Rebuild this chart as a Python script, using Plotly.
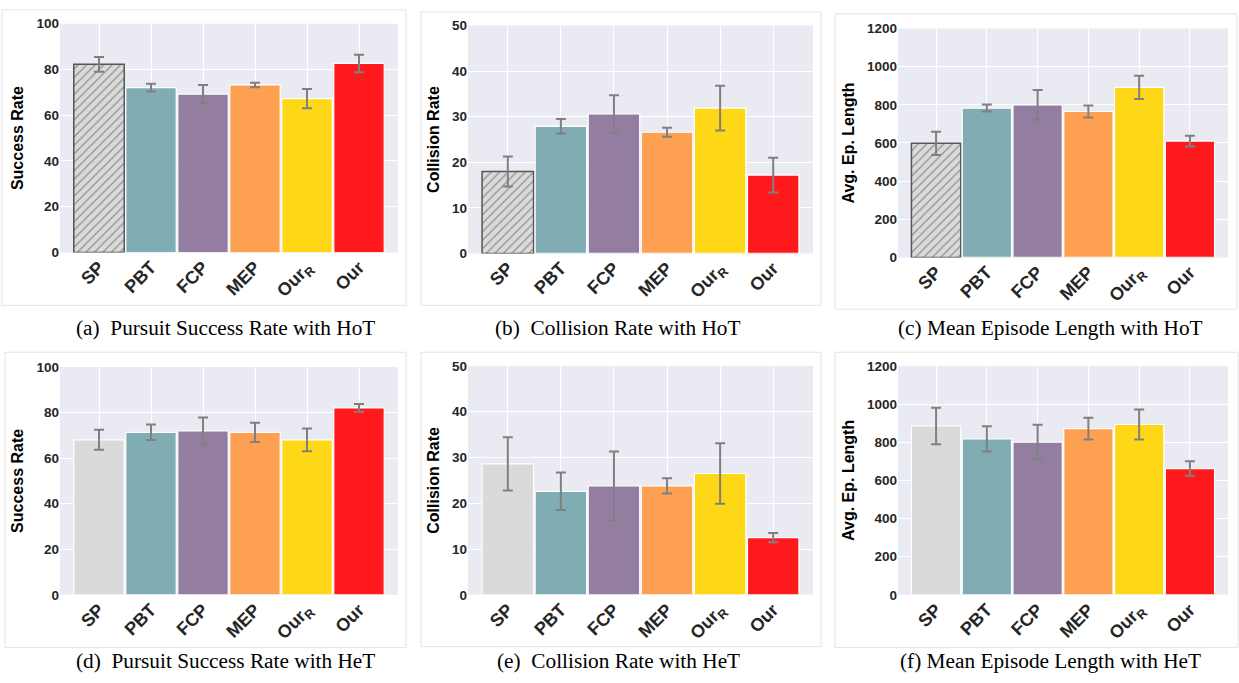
import plotly.graph_objects as go

W, H = 1239, 683

categories = ["SP", "PBT", "FCP", "MEP", "Our<sub>R</sub>", "Our"]
colors = ["#dadada", "#80adb4", "#937ea2", "#fea052", "#fed817", "#fe1a1c"]

# Panel data (values and error half-widths)
succ_hot = [82.2, 72.0, 69.2, 73.2, 67.2, 82.6]
succ_hot_err = [3.2, 1.7, 4.0, 1.0, 4.2, 3.8]
coll_hot = [18.0, 27.9, 30.6, 26.6, 31.9, 17.2]
coll_hot_err = [3.3, 1.6, 4.1, 1.0, 4.9, 3.8]
len_hot = [598, 783, 799, 765, 891, 610]
len_hot_err = [61, 18, 78, 31, 61, 28]
succ_het = [68.0, 71.3, 71.9, 71.3, 68.0, 82.0]
succ_het_err = [4.4, 3.4, 5.9, 4.2, 5.0, 1.7]
coll_het = [28.6, 22.6, 23.8, 23.8, 26.5, 12.5]
coll_het_err = [5.8, 4.1, 7.5, 1.65, 6.6, 1.0]
len_het = [885, 818, 801, 871, 893, 662]
len_het_err = [96, 66, 91, 57, 79, 38]

y_titles = ["Success Rate", "Collision Rate", "Avg. Ep. Length"]
y_max = [100, 50, 1200]
y_dtick = [20, 10, 200]
NB = "\u00a0"
captions = [
    "(a) " + NB + "Pursuit Success Rate with HoT",
    "(b) " + NB + "Collision Rate with HoT",
    "(c) Mean Episode Length with HoT",
    "(d) " + NB + "Pursuit Success Rate with HeT",
    "(e) " + NB + "Collision Rate with HeT",
    "(f) Mean Episode Length with HeT",
]

panels = [
    (succ_hot, succ_hot_err, 0, True),
    (coll_hot, coll_hot_err, 1, True),
    (len_hot, len_hot_err, 2, True),
    (succ_het, succ_het_err, 0, False),
    (coll_het, coll_het_err, 1, False),
    (len_het, len_het_err, 2, False),
]

# plot-area pixel boxes (x0, x1, ytop, ybottom)
boxes = [
    (60, 398, 17, 251),
    (468, 813, 19, 252),
    (898, 1228, 22, 256),
    (60, 398, 368, 601),
    (468, 813, 367, 601),
    (898, 1228, 367, 601),
]
frames = [
    (2, 406, 3, 305),
    (421, 821, 5, 305),
    (835, 1237, 7, 309),
    (5, 406, 353, 655),
    (421, 821, 353, 654),
    (835, 1238, 353, 655),
]
cap_pos = [(226, 328), (618, 328), (1050, 328), (226, 669), (618, 669), (1050, 669)]

fig = go.Figure()
tickfont = dict(family="Liberation Sans", size=13.5, color="#262626")

for i, (vals, errs, kind, hatched) in enumerate(panels):
    n = i + 1
    xa = "x" if n == 1 else f"x{n}"
    ya = "y" if n == 1 else f"y{n}"
    line_colors = ["#555555" if (hatched and j == 0) else "white" for j in range(6)]
    line_widths = [1.5 if (hatched and j == 0) else 1.2 for j in range(6)]
    pattern = dict(
        shape=["/" if (hatched and j == 0) else "" for j in range(6)],
        fgcolor="#333333",
        size=6,
        solidity=0.2,
    )
    fig.add_trace(go.Bar(
        x=list(range(6)), y=vals,
        xaxis=xa, yaxis=ya,
        width=0.97,
        marker=dict(color=colors, line=dict(color=line_colors, width=line_widths), pattern=pattern),
        error_y=dict(type="data", array=errs, visible=True, color="#808080", thickness=2, width=5),
        showlegend=False,
    ))
    x0, x1, yt, yb = boxes[i]
    key = "" if n == 1 else str(n)
    fig.layout["xaxis" + key] = dict(
        domain=[x0 / W, x1 / W], anchor=ya,
        range=[-0.75, 5.75], tickmode="array", tickvals=list(range(6)),
        ticktext=["<b>" + c + "</b>" for c in categories],
        tickangle=-45, tickfont=dict(family="Liberation Sans", size=18, color="#262626"),
        showgrid=True, gridcolor="white", gridwidth=1, zeroline=False, showline=False, ticks="",
    )
    fig.layout["yaxis" + key] = dict(
        domain=[1 - yb / H, 1 - yt / H], anchor=xa,
        range=[0, y_max[kind]], dtick=y_dtick[kind], tickfont=tickfont,
        title=dict(text="<b>" + y_titles[kind] + "</b>", font=dict(family="Liberation Sans", size=16, color="black"), standoff=8),
        showgrid=True, gridcolor="white", gridwidth=1, zeroline=False, showline=False, ticks="",
        tickprefix="<b>", ticksuffix="</b>",
    )
    fx0, fx1, fyt, fyb = frames[i]
    fig.add_shape(type="rect", xref="paper", yref="paper",
                  x0=fx0 / W, x1=fx1 / W, y0=1 - fyb / H, y1=1 - fyt / H,
                  line=dict(color="#e3e3e3", width=1), fillcolor="rgba(0,0,0,0)", layer="below")
    fig.add_shape(type="rect", xref="paper", yref="paper",
                  x0=x0 / W, x1=x1 / W, y0=1 - yb / H, y1=1 - yt / H,
                  line=dict(width=0), fillcolor="#eaeaf2", layer="below")
    cx, cy = cap_pos[i]
    fig.add_annotation(text=captions[i], xref="paper", yref="paper", x=cx / W, y=1 - cy / H,
                       showarrow=False, xanchor="center", yanchor="middle",
                       font=dict(family="Liberation Serif", size=21.3, color="black"))

fig.update_layout(
    width=W, height=H, margin=dict(l=0, r=0, t=0, b=0),
    paper_bgcolor="white", plot_bgcolor="rgba(0,0,0,0)",
    bargap=0.03,
)
fig.write_html("out.html", config={"displayModeBar": False},
               post_script="document.body.style.margin='0';document.body.style.overflow='hidden';")
